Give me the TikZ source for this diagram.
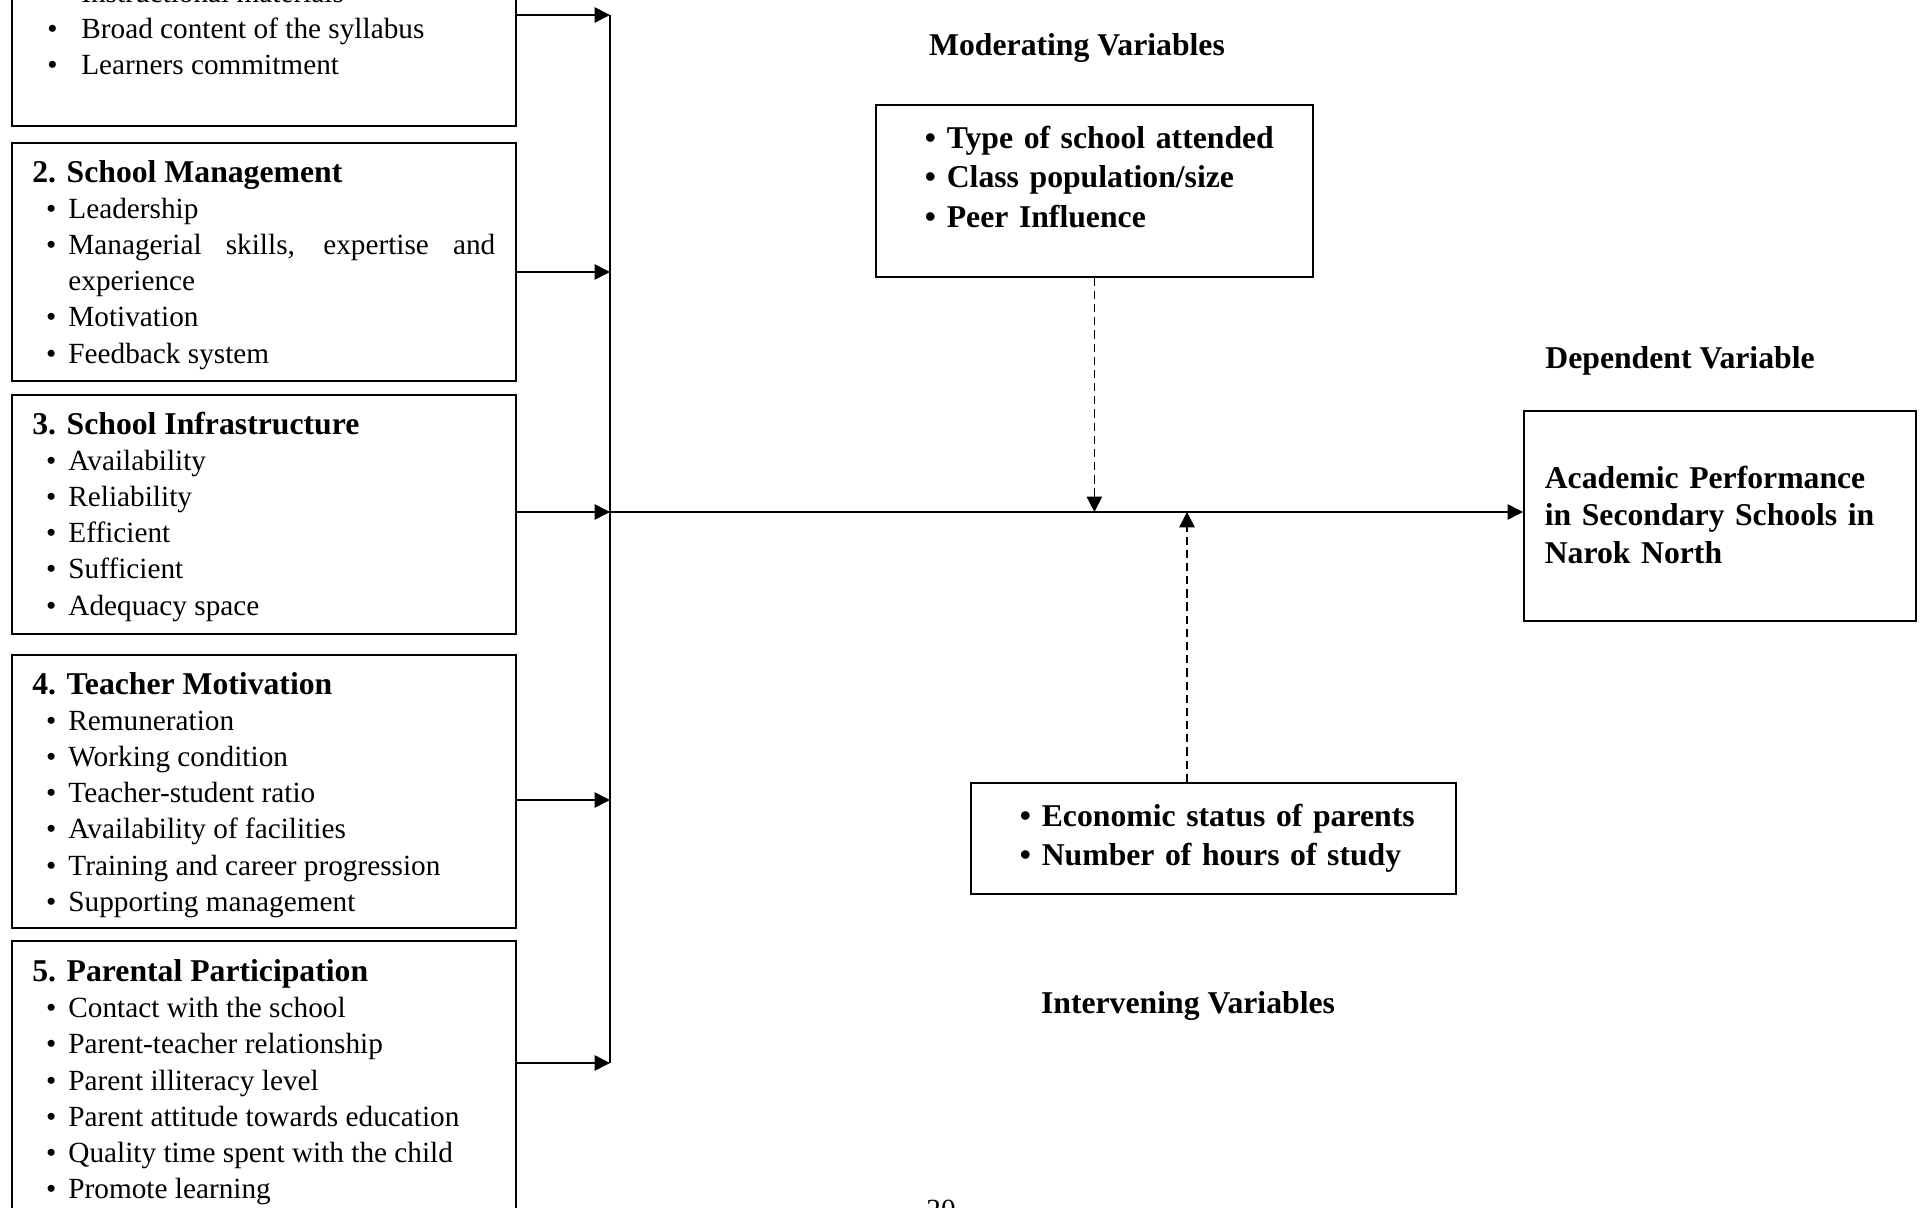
\documentclass[tikz,border=0pt]{standalone}
\usepackage{fontspec}
\setmainfont{Liberation Serif}
\usetikzlibrary{arrows.meta}

\hyphenpenalty=10000
\tolerance=10000

\newcommand{\bitem}[1]{\par\noindent\hangindent=14.8pt\hangafter=1\hspace*{5.7pt}\makebox[9.1pt][l]{\textbullet}#1}
\newcommand{\bitemwide}[1]{\par\noindent\hangindent=20.1pt\hangafter=1\hspace*{6.2pt}\makebox[13.9pt][l]{\textbullet}#1}
\newcommand{\boxtitle}[1]{{\fontsize{13}{15.2}\selectfont\bfseries #1\par}}
\newcommand{\bolditem}[1]{\par\noindent\hspace*{12.1pt}\makebox[9pt][l]{\textbullet}#1}
\newcommand{\padbottom}[1]{\par\vspace*{#1}\hrule height 0pt}

\begin{document}
\begin{tikzpicture}
        [x=0.41pt, y=-0.41pt, >={Triangle[length=6.3pt,width=6.3pt]}, line width=0.6pt,
         factorbox/.style={draw=black, line width=0.7pt, anchor=north west, text width=189.8pt,
           inner xsep=8.2pt, inner ysep=0pt, minimum width=206.6pt, align=justify,
           font=\fontsize{12}{14.8}\selectfont},
         varbox/.style={draw=black, line width=0.7pt, anchor=north west, inner xsep=8pt, inner ysep=0pt,
           align=left, font=\fontsize{13}{16.2}\selectfont\bfseries},
         varlabel/.style={inner sep=0pt, font=\fontsize{13}{15.2}\selectfont\bfseries},
         dashedline/.style={dash pattern=on 3.4pt off 2pt}]
        \useasboundingbox (0,0) rectangle (1921,1208);
        \clip (0,0) rectangle (1921,1208);

        \node[factorbox,anchor=south west,minimum height=68.5pt] (b1) at (11,127)
          {\bitemwide{Instructional materials}\bitemwide{Broad content of the syllabus}\bitemwide{Learners commitment}\padbottom{18.3pt}};
        \node[factorbox,minimum height=97.6pt] (b2) at (11,142)
          {\boxtitle{2. School Management}\bitem{Leadership}\bitem{Managerial skills, expertise and experience}\bitem{Motivation}\bitem{Feedback system}\padbottom{-2.5pt}};
        \node[factorbox,minimum height=98pt] (b3) at (11,394)
          {\boxtitle{3. School Infrastructure}\bitem{Availability}\bitem{Reliability}\bitem{Efficient}\bitem{Sufficient}\bitem{Adequacy space}\padbottom{-2pt}};
        \node[factorbox,minimum height=111.9pt] (b4) at (11,654)
          {\boxtitle{4. Teacher Motivation}\bitem{Remuneration}\bitem{Working condition}\bitem{Teacher-student ratio}\bitem{Availability of facilities}\bitem{Training and career progression}\bitem{Supporting management}\padbottom{-3pt}};
        \node[factorbox,minimum height=111.9pt] (b5) at (11,940)
          {\boxtitle{5. Parental Participation}\bitem{Contact with the school}\bitem{Parent-teacher relationship}\bitem{Parent illiteracy level}\bitem{Parent attitude towards education}\bitem{Quality time spent with the child}\bitem{Promote learning}\padbottom{-4pt}};

        \node[varlabel] (modlabel) at (1077,48) {Moderating Variables};
        \node[varbox,text width=163.2pt,minimum width=179.2pt,minimum height=70.5pt] (mod) at (875,104)
          {\bolditem{Type of school attended}\bolditem{Class population/size}\bolditem{Peer Influence}\padbottom{18.7pt}};

        \node[varlabel] (deplabel) at (1680,361) {Dependent Variable};
        \node[varbox,font=\fontsize{13}{15.4}\selectfont\bfseries,text width=143.5pt,inner xsep=8.6pt,minimum width=160.7pt,minimum height=86.1pt] (dep) at (1523,410)
          {Academic Performance\\in Secondary Schools in\\Narok North\padbottom{1pt}};

        \node[varbox,font=\fontsize{13}{16}\selectfont\bfseries,text width=182.9pt,minimum width=198.9pt,minimum height=45.5pt] (int) at (970,782)
          {\bolditem{Economic status of parents}\bolditem{Number of hours of study}\padbottom{7.2pt}};
        \node[varlabel] (intlabel) at (1188,1006) {Intervening Variables};

        \node[anchor=base,inner sep=0pt,font=\fontsize{12}{14.8}\selectfont] (pageno) at (941,1219) {20};

        \coordinate (bus1) at (610,15);
        \coordinate (bus2) at (610,272);
        \coordinate (bus3) at (610,512);
        \coordinate (bus4) at (610,800);
        \coordinate (bus5) at (610,1063);
        \coordinate (inv) at (1187,512);

        \draw[->] (bus1 -| b1.east) -- (bus1);
        \draw[->] (bus2 -| b2.east) -- (bus2);
        \draw[->] (bus3 -| b3.east) -- (bus3);
        \draw[->] (bus4 -| b4.east) -- (bus4);
        \draw[->] (bus5 -| b5.east) -- (bus5);
        \draw (bus1) -- (bus5);
        \draw[->] (bus3) -- (bus3 -| dep.west);
        \draw[->, dashedline] (mod.south) -- (mod.south |- bus3);
        \draw[->, dashedline] (inv |- int.north) -- (inv);
    \end{tikzpicture}
\end{document}
